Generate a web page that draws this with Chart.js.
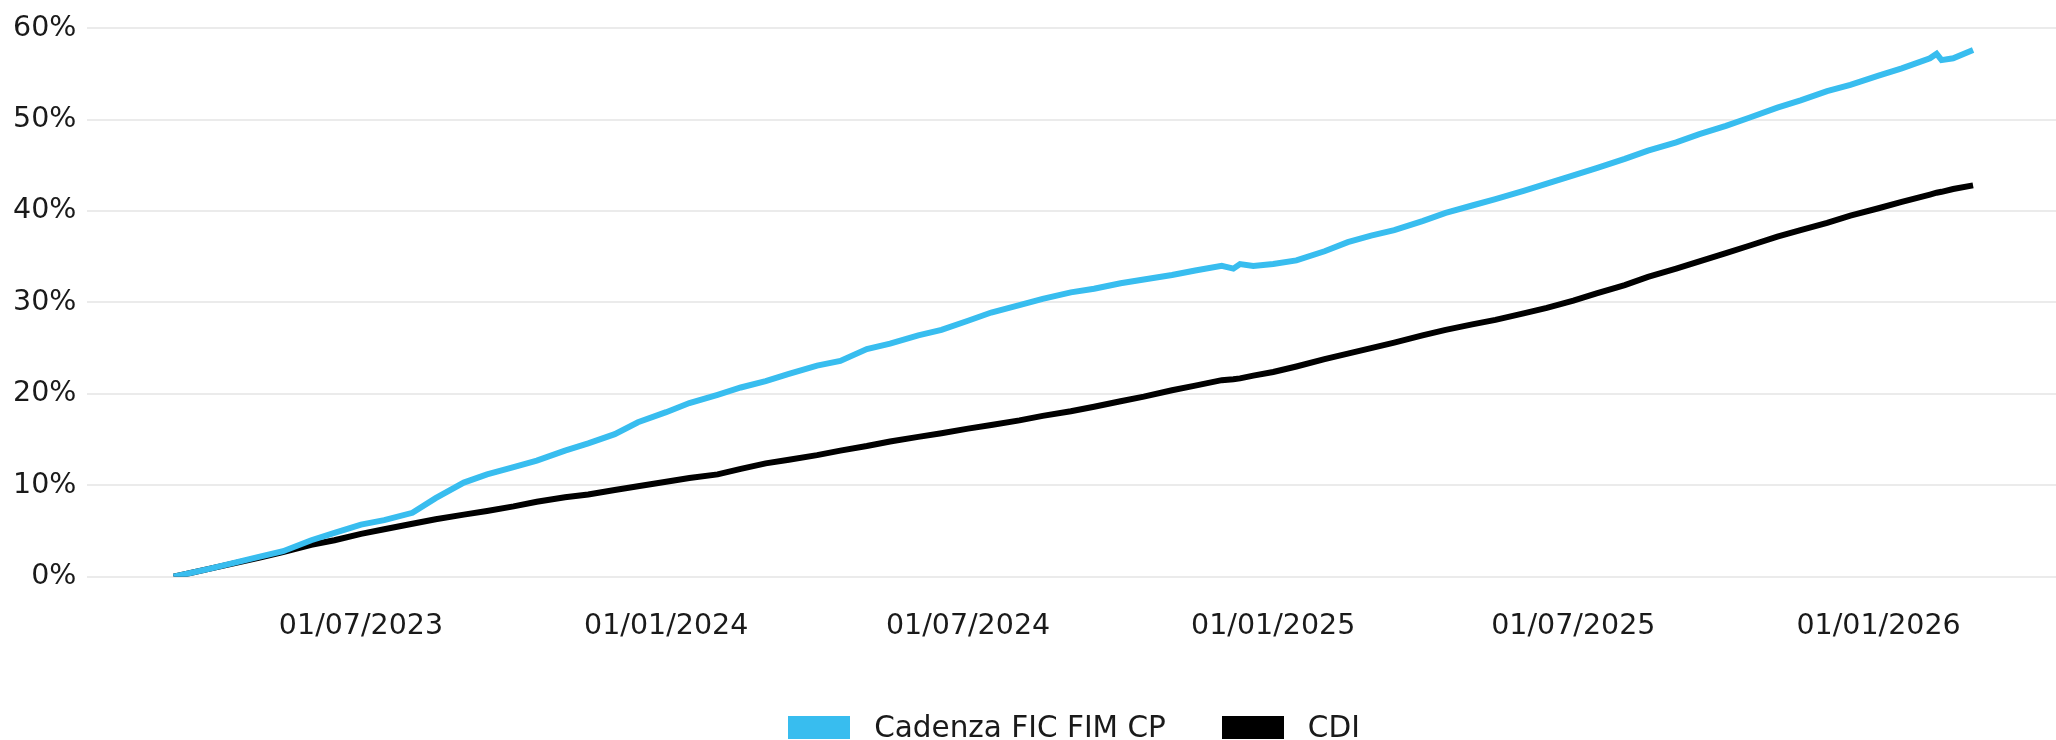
<!DOCTYPE html>
<html>
<head>
<meta charset="utf-8">
<script src="https://cdn.jsdelivr.net/npm/chart.js@4.4.1/dist/chart.umd.min.js"></script>
<style>
    body { margin: 0; background: #fff; }
    #wrap { position: relative; width: 2056px; height: 740px; }
    #legend {
        position: absolute; top: 710px; left: 92px; right: 0;
        display: flex; justify-content: center; align-items: center;
        font-family: 'DejaVu Sans', sans-serif; font-size: 29.5px; color: #1a1a1a;
    }
    .item { display: flex; align-items: center; margin: 0 28px; }
    .box { display: inline-block; width: 62px; height: 23px; margin-right: 24px; }
</style>
</head>
<body>
<div id="wrap">
    <canvas id="chart"></canvas>
    <div id="legend"></div>
</div>
<script>
// data (cumulative return, %)
var dates = [
    '2023-03-10', '2023-04-01', '2023-05-01', '2023-05-15', '2023-06-01', '2023-06-15',
    '2023-07-01', '2023-07-15', '2023-08-01', '2023-08-15', '2023-09-01', '2023-09-15',
    '2023-10-01', '2023-10-15', '2023-11-01', '2023-11-15', '2023-12-01', '2023-12-15',
    '2024-01-01', '2024-01-15', '2024-02-01', '2024-02-15', '2024-03-01', '2024-03-15',
    '2024-04-01', '2024-04-15', '2024-05-01', '2024-05-15', '2024-06-01', '2024-06-15',
    '2024-07-01', '2024-07-15', '2024-08-01', '2024-08-15', '2024-09-01', '2024-09-15',
    '2024-10-01', '2024-10-15', '2024-11-01', '2024-11-15', '2024-12-01', '2024-12-08',
    '2024-12-12', '2024-12-20', '2025-01-01', '2025-01-15', '2025-02-01', '2025-02-15',
    '2025-03-01', '2025-03-15', '2025-04-01', '2025-04-15', '2025-05-01', '2025-05-15',
    '2025-06-01', '2025-06-15', '2025-07-01', '2025-07-15', '2025-08-01', '2025-08-15',
    '2025-09-01', '2025-09-15', '2025-10-01', '2025-10-15', '2025-11-01', '2025-11-15',
    '2025-12-01', '2025-12-15', '2026-01-01', '2026-01-15', '2026-02-01', '2026-02-05',
    '2026-02-08', '2026-02-15', '2026-02-27'
];

var cadenza = [
    0.0, 0.9, 2.2, 2.8, 4.0, 4.8,
    5.7, 6.2, 7.0, 8.6, 10.3, 11.2,
    12.0, 12.7, 13.8, 14.6, 15.6, 16.9,
    18.0, 19.0, 19.9, 20.7, 21.4, 22.2,
    23.1, 23.6, 24.9, 25.5, 26.4, 27.0,
    28.0, 28.9, 29.7, 30.4, 31.1, 31.5,
    32.1, 32.5, 33.0, 33.5, 34.0, 33.7,
    34.2, 34.0, 34.2, 34.6, 35.6, 36.6,
    37.3, 37.9, 38.9, 39.8, 40.6, 41.3,
    42.2, 43.0, 43.9, 44.7, 45.7, 46.6,
    47.5, 48.4, 49.3, 50.2, 51.3, 52.1,
    53.1, 53.8, 54.8, 55.6, 56.7, 57.2,
    56.5, 56.7, 57.6
];

var cdi = [
    0.0, 0.9, 2.1, 2.7, 3.5, 4.0,
    4.7, 5.2, 5.8, 6.3, 6.8, 7.2,
    7.7, 8.2, 8.7, 9.0, 9.5, 9.9,
    10.4, 10.8, 11.2, 11.8, 12.4, 12.8,
    13.3, 13.8, 14.3, 14.8, 15.3, 15.7,
    16.2, 16.6, 17.1, 17.6, 18.1, 18.6,
    19.2, 19.7, 20.4, 20.9, 21.5, 21.6,
    21.7, 22.0, 22.4, 23.0, 23.8, 24.4,
    25.0, 25.6, 26.4, 27.0, 27.6, 28.1,
    28.8, 29.4, 30.2, 31.0, 31.9, 32.8,
    33.7, 34.5, 35.4, 36.2, 37.2, 37.9,
    38.7, 39.5, 40.3, 41.0, 41.8, 42.0,
    42.1, 42.4, 42.8
];

var tickDates = ['2023-07-01', '2024-01-01', '2024-07-01', '2025-01-01', '2025-07-01', '2026-01-01'];
var yTicks = [0, 10, 20, 30, 40, 50, 60];

var seriesNames = ['Cadenza FIC FIM CP', 'CDI'];
var seriesColors = ['#38bdef', '#000000'];

// x axis works in days counted from 2023-07-01
var BASE = Date.UTC(2023, 6, 1);
function toDay(s) {
    var p = s.split('-');
    return Math.round((Date.UTC(+p[0], +p[1] - 1, +p[2]) - BASE) / 86400000);
}
function fmtDay(d) {
    var dt = new Date(BASE + d * 86400000);
    var dd = ('0' + dt.getUTCDate()).slice(-2);
    var mm = ('0' + (dt.getUTCMonth() + 1)).slice(-2);
    return dd + '/' + mm + '/' + dt.getUTCFullYear();
}

function toPoints(values) {
    return values.map(function (v, i) { return { x: toDay(dates[i]), y: v }; });
}

var font = { family: "'DejaVu Sans', sans-serif", size: 28.5 };

new Chart(document.getElementById('chart').getContext('2d'), {
    type: 'line',
    data: {
        datasets: [
            {
                label: seriesNames[0],
                data: toPoints(cadenza),
                borderColor: seriesColors[0],
                backgroundColor: seriesColors[0],
                borderWidth: 6,
                pointRadius: 0,
                tension: 0
            },
            {
                label: seriesNames[1],
                data: toPoints(cdi),
                borderColor: seriesColors[1],
                backgroundColor: seriesColors[1],
                borderWidth: 6,
                pointRadius: 0,
                tension: 0
            }
        ]
    },
    options: {
        responsive: true,
        maintainAspectRatio: false,
        animation: false,
        layout: { padding: { left: 2, top: 10, right: 0, bottom: 71 } },
        plugins: {
            legend: { display: false },
            tooltip: { enabled: false }
        },
        scales: {
            x: {
                type: 'linear',
                min: -165,
                max: 1022,
                grid: { display: false },
                border: { display: false },
                afterBuildTicks: function (axis) {
                    axis.ticks = tickDates.map(function (d) { return { value: toDay(d) }; });
                },
                ticks: {
                    autoSkip: false,
                    maxRotation: 0,
                    padding: 25,
                    color: '#1a1a1a',
                    font: font,
                    callback: function (v) { return fmtDay(v); }
                }
            },
            y: {
                min: 0,
                max: 60,
                afterBuildTicks: function (axis) {
                    axis.ticks = yTicks.map(function (v) { return { value: v }; });
                },
                grid: { color: '#ebebeb', lineWidth: 2, drawTicks: false },
                border: { display: false },
                ticks: {
                    padding: 11,
                    color: '#1a1a1a',
                    font: font,
                    callback: function (v) { return v + '%'; }
                }
            }
        }
    }
});

// legend drawn as html under the plot
var legend = document.getElementById('legend');
seriesNames.forEach(function (name, i) {
    var item = document.createElement('div');
    item.className = 'item';
    item.innerHTML = '<span class="box" style="background:' + seriesColors[i] + '"></span><span>' + name + '</span>';
    legend.appendChild(item);
});
</script>
</body>
</html>
